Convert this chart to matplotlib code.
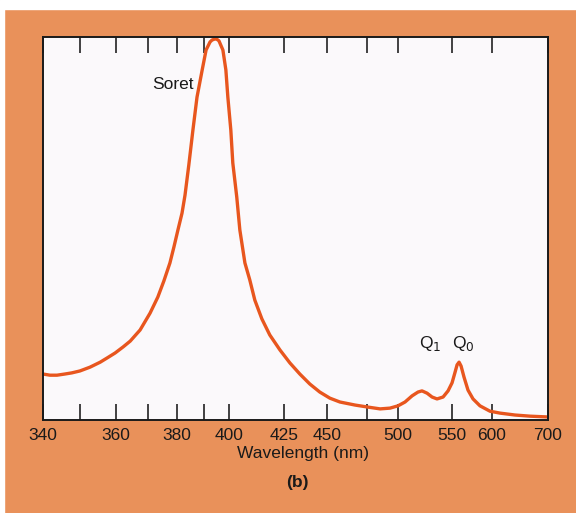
import numpy as np
import matplotlib
matplotlib.use("Agg")
import matplotlib.pyplot as plt
from matplotlib.patches import Rectangle

plt.rcParams['font.family'] = ['Liberation Sans', 'DejaVu Sans']

# tick wavelengths (nm) and where they sit along the axis (0..1)
tick_nm = [340, 350, 360, 370, 380, 390, 400, 425, 450, 475, 500, 550, 600, 700]
tick_frac = [0.000, 0.073, 0.145, 0.208, 0.265, 0.319, 0.368,
             0.477, 0.562, 0.642, 0.703, 0.810, 0.889, 1.000]
label_nm = [340, 360, 380, 400, 425, 450, 500, 550, 600, 700]

# spectrum (relative absorbance)
wavelength = [340.0, 341.9, 343.8, 345.9, 347.8, 350.0, 352.8, 355.6, 357.5,
              359.7, 362.2, 364.4, 367.5, 370.7, 373.4, 375.5, 377.6, 379.0,
              380.4, 381.9, 383.0, 384.4, 385.9, 387.4, 389.3, 390.8, 392.4,
              393.2, 394.4, 395.2, 396.0, 397.6, 398.8, 399.6, 400.9, 401.8,
              403.6, 405.0, 407.3, 409.5, 411.8, 415.0, 418.6, 423.2, 428.5,
              434.3, 440.1, 445.9, 451.9, 458.1, 467.5, 475.0, 485.5, 493.5,
              500.0, 506.5, 513.0, 518.5, 522.2, 526.9, 531.5, 536.1, 541.7,
              546.3, 550.0, 553.8, 556.3, 558.8, 561.3, 565.0, 570.0, 576.3,
              585.0, 597.5, 614.3, 641.1, 667.9, 698.2]
absorbance = [0.120, 0.117, 0.117, 0.120, 0.123, 0.128, 0.138, 0.151, 0.162,
              0.175, 0.191, 0.206, 0.235, 0.279, 0.321, 0.363, 0.410, 0.452,
              0.496, 0.540, 0.587, 0.666, 0.757, 0.843, 0.914, 0.966, 0.987,
              0.992, 0.995, 0.994, 0.990, 0.966, 0.914, 0.843, 0.757, 0.671,
              0.582, 0.496, 0.410, 0.366, 0.313, 0.264, 0.222, 0.183, 0.149,
              0.120, 0.094, 0.073, 0.057, 0.047, 0.039, 0.034, 0.029, 0.031,
              0.037, 0.047, 0.063, 0.073, 0.076, 0.070, 0.060, 0.055, 0.060,
              0.076, 0.097, 0.125, 0.144, 0.151, 0.141, 0.112, 0.078, 0.055,
              0.037, 0.023, 0.018, 0.013, 0.010, 0.008]

bg = '#e9915a'
curve = '#e8561e'
ink = '#1a1a1a'


def fwd(x):
    return np.interp(x, tick_nm, tick_frac)


def inv(f):
    return np.interp(f, tick_frac, tick_nm)


fig = plt.figure(figsize=(5.76, 5.13), dpi=100, facecolor=bg)
# thin white margin at top and left of the scan
fig.patches.append(Rectangle((0, 1 - 9 / 513), 1, 9 / 513, transform=fig.transFigure,
                             color='white', zorder=0))
fig.patches.append(Rectangle((0, 0), 4 / 576, 1, transform=fig.transFigure,
                             color='white', zorder=0))

ax = fig.add_axes([43 / 576, 93 / 513, 505 / 576, 383 / 513])
ax.set_facecolor('#fbf9fb')
ax.set_xscale('function', functions=(fwd, inv))
ax.plot(wavelength, absorbance, color=curve, lw=2.4,
        solid_capstyle='round', solid_joinstyle='round')
ax.set_xlim(340, 700)
ax.set_ylim(0, 1)

ax.set_xticks(tick_nm)
ax.set_xticklabels([str(t) if t in label_nm else '' for t in tick_nm], fontsize=12.5)
ax.tick_params(axis='x', direction='in', length=11.5, width=1.2, top=True,
               pad=6, colors='#222222', labelcolor=ink)
ax.set_yticks([])
for s in ax.spines.values():
    s.set_linewidth(1.4)
    s.set_color(ink)

ax.set_xlabel('Wavelength (nm)', fontsize=12.5, labelpad=2, color=ink, x=0.515)

ax.text(378.5, 0.875, 'Soret', fontsize=12.5, ha='center', va='center', color=ink)
ax.text(529.5, 0.2, r'Q$_1$', fontsize=12.5, ha='center', va='center', color=ink)
ax.text(564, 0.2, r'Q$_0$', fontsize=12.5, ha='center', va='center', color=ink)

fig.text(297 / 576, 1 - 482 / 513, '(b)', fontsize=12.5, fontweight='bold',
         ha='center', va='center', color=ink)

fig.savefig('out.png', dpi=100, facecolor=bg)
